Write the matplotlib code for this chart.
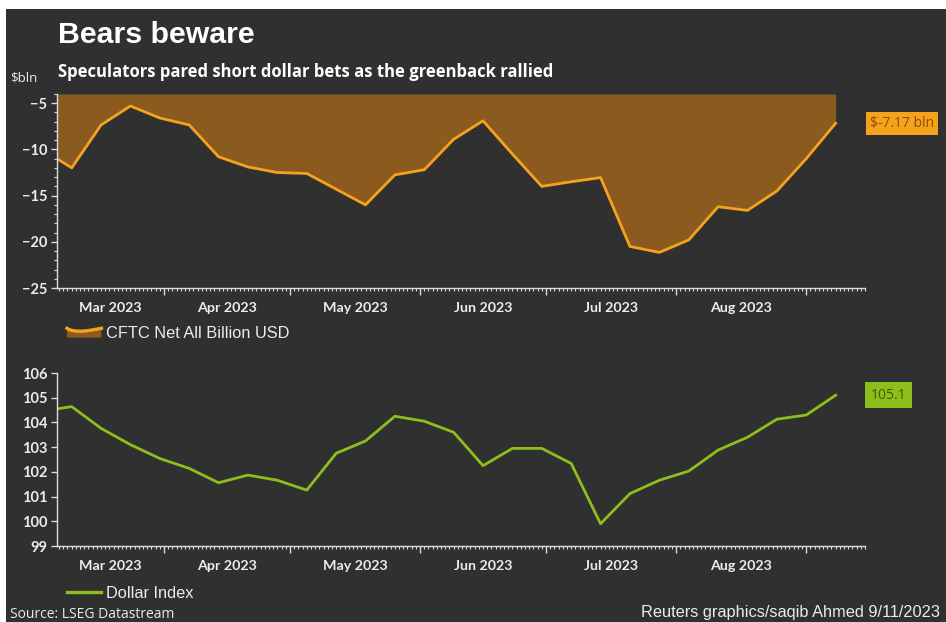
import numpy as np
import pandas as pd
import matplotlib
matplotlib.use('Agg')
import matplotlib.pyplot as plt
import matplotlib.dates as mdates
import matplotlib.transforms as mtransforms
from matplotlib.patches import Rectangle, Polygon
from matplotlib.lines import Line2D
from matplotlib.legend_handler import HandlerBase
from matplotlib.ticker import MultipleLocator, NullFormatter

# weekly observations (Fridays); the first one sits just left of the window
dates = pd.date_range('2023-03-03', '2023-09-08', freq='7D')
cftc_net = [-10.0, -12.0, -7.35, -5.3, -6.6, -7.35, -10.8, -11.9, -12.5, -12.6,
            -14.3, -16.0, -12.75, -12.2, -8.9, -6.9, -10.5, -14.0, -13.5, -13.05,
            -20.5, -21.15, -19.8, -16.2, -16.6, -14.5, -11.0, -7.17]
dollar_index = [104.46, 104.64, 103.76, 103.1, 102.54, 102.14, 101.56, 101.87, 101.66, 101.26,
                102.75, 103.25, 104.25, 104.05, 103.6, 102.25, 102.95, 102.95, 102.34, 99.9,
                101.12, 101.66, 102.03, 102.88, 103.4, 104.13, 104.3, 105.1]
month_labels = ['Mar 2023', 'Apr 2023', 'May 2023', 'Jun 2023', 'Jul 2023', 'Aug 2023']

x_start = pd.Timestamp('2023-03-06 12:00')
x_end = pd.Timestamp('2023-09-15')

BG = '#303030'
FILL = '#8a5a1f'
ORANGE = '#f5a31c'
GREEN = '#8dbf1c'
TXT = '#ececec'
TICKFONT = 'Lato'

W, H = 946, 622
fig = plt.figure(figsize=(W / 100, H / 100), dpi=100, facecolor='white')
fig.patches.append(Rectangle((6 / W, 0), 1 - 6 / W, 1 - 9 / H, transform=fig.transFigure,
                             fc=BG, ec='none', zorder=-5))


def px_axes(l, t, r, b):
    ax = fig.add_axes([l / W, 1 - b / H, (r - l) / W, (b - t) / H])
    ax.patch.set_visible(False)
    for s in ['top', 'right']:
        ax.spines[s].set_visible(False)
    for s in ['left', 'bottom']:
        ax.spines[s].set_color('#dcdcdc')
        ax.spines[s].set_linewidth(1.0)
    ax.set_xlim(x_start, x_end)
    ax.xaxis.set_major_locator(mdates.MonthLocator())
    ax.xaxis.set_minor_locator(mdates.DayLocator())
    ax.xaxis.set_major_formatter(NullFormatter())
    ax.tick_params(axis='x', which='major', length=5, width=1, color='#dcdcdc')
    ax.tick_params(axis='x', which='minor', length=2.5, width=0.8, color='#dcdcdc')
    ax.tick_params(axis='y', which='major', length=4, width=1, color='#dcdcdc', pad=3,
                   labelcolor=TXT, labelsize=10.5)
    ax.tick_params(axis='y', which='minor', length=2.5, width=0.8, color='#dcdcdc')
    # month names centred in each visible month
    lo, hi = mdates.date2num(x_start), mdates.date2num(x_end)
    starts = pd.date_range('2023-03-01', periods=len(month_labels) + 1, freq='MS')
    trans = mtransforms.offset_copy(ax.get_xaxis_transform(), fig=fig, y=-14, units='dots')
    for i, name in enumerate(month_labels):
        a = max(mdates.date2num(starts[i]), lo)
        b = min(mdates.date2num(starts[i + 1]), hi)
        ax.text((a + b) / 2, 0, name, transform=trans, ha='center', va='top', color=TXT,
                fontsize=10.3, fontfamily=TICKFONT, fontweight='bold')
    return ax


def style_yticks(ax):
    for lab in ax.get_yticklabels():
        lab.set_fontfamily(TICKFONT)
        lab.set_fontweight('bold')
        lab.set_color(TXT)


class AreaHandler(HandlerBase):
    def create_artists(self, legend, orig_handle, xdescent, ydescent, width, height,
                       fontsize, trans):
        t = np.linspace(0, 1, 30)
        xs = t * width - xdescent
        top = -ydescent + height * (0.95 - 0.3 * np.sin(np.pi * t ** 0.7))
        verts = np.column_stack([np.r_[xs, xs[::-1]], np.r_[top, np.full(30, -ydescent)]])
        area = Polygon(verts, closed=True, fc=FILL, ec='none', transform=trans)
        edge = Line2D(xs, top, color=ORANGE, lw=2.4, transform=trans)
        return [area, edge]


# --- top panel: CFTC positioning ---
ax1 = px_axes(57, 94, 865, 288)
ax1.set_ylim(-25, -4)
ax1.yaxis.set_major_locator(MultipleLocator(5))
ax1.yaxis.set_minor_locator(MultipleLocator(1))
ax1.set_yticks([-5, -10, -15, -20, -25])
ax1.fill_between(dates, cftc_net, -4, color=FILL, lw=0, zorder=1)
ax1.plot(dates, cftc_net, color=ORANGE, lw=2.0, zorder=2)
style_yticks(ax1)
ax1.annotate(f'\\$-{abs(cftc_net[-1]):.2f} bln', xy=(1, cftc_net[-1]),
             xycoords=('axes fraction', 'data'), xytext=(3.5, 0), textcoords='offset points',
             ha='left', va='center', fontsize=10, color='#8a4f05', fontfamily='Open Sans',
             bbox=dict(boxstyle='square,pad=0.3', fc=ORANGE, ec='none'))
fig.legend(handles=[Rectangle((0, 0), 1, 1)], labels=['CFTC Net All Billion USD'],
           handler_map={Rectangle: AreaHandler()}, loc='center left',
           bbox_to_anchor=(67 / W, 1 - 334 / H), frameon=False,
           handlelength=2.1, handleheight=0.55, handletextpad=0.25, borderpad=0,
           borderaxespad=0, labelcolor=TXT, prop={'family': 'Liberation Sans', 'size': 11.8})

# --- bottom panel: Dollar index ---
ax2 = px_axes(57, 373, 865, 546)
ax2.set_ylim(99, 106)
ax2.yaxis.set_major_locator(MultipleLocator(1))
ax2.plot(dates, dollar_index, color=GREEN, lw=2.0, zorder=2)
style_yticks(ax2)
ax2.annotate(f'{dollar_index[-1]:.1f}', xy=(1, dollar_index[-1]),
             xycoords=('axes fraction', 'data'), xytext=(4, 0), textcoords='offset points',
             ha='left', va='center', fontsize=10, color='#3f5a05', fontfamily='Open Sans',
             bbox=dict(boxstyle='square,pad=0.4', fc=GREEN, ec='none'))
fig.legend(handles=[Line2D([], [], color=GREEN, lw=2.4)], labels=['Dollar Index'],
           loc='center left', bbox_to_anchor=(67 / W, 1 - 593 / H), frameon=False,
           handlelength=2.1, handletextpad=0.25, borderpad=0, borderaxespad=0,
           labelcolor=TXT, prop={'family': 'Liberation Sans', 'size': 11.8})

# --- titles and notes ---
fig.text(58 / W, 1 - 35 / H, 'Bears beware', ha='left', va='center', color='white',
         fontsize=21.8, fontweight='bold', fontfamily='Liberation Sans')
fig.text(58 / W, 1 - 72 / H, 'Speculators pared short dollar bets as the greenback rallied',
         ha='left', va='center', color='white', fontsize=12, fontweight='bold',
         fontfamily='Open Sans')
fig.text(10 / W, 1 - 78 / H, '$bln', ha='left', va='center', color=TXT, fontsize=9.5,
         fontfamily='Open Sans')
fig.text(10 / W, 1 - 622 / H, 'Source: LSEG Datastream', ha='left', va='bottom', color=TXT,
         fontsize=10, fontfamily='Open Sans')
fig.text(940 / W, 1 - 613 / H, 'Reuters graphics/saqib Ahmed 9/11/2023', ha='right',
         va='center', color=TXT, fontsize=11.8, fontfamily='Liberation Sans')

fig.savefig('out.png', dpi=100, facecolor=fig.get_facecolor())
